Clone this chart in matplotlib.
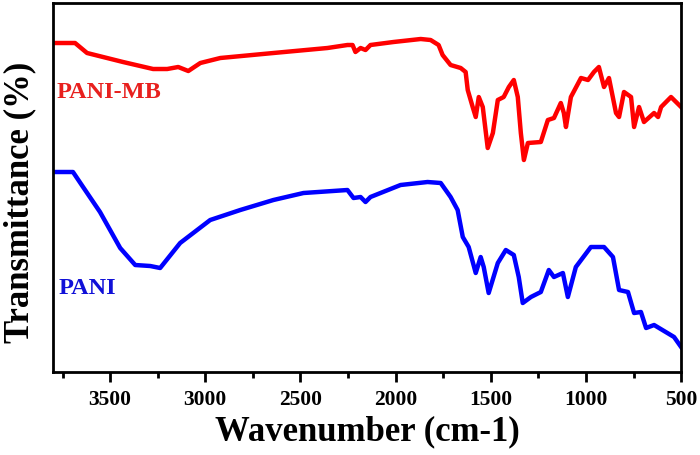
import matplotlib
matplotlib.use("Agg")
import matplotlib.pyplot as plt
from matplotlib.ticker import MultipleLocator

# FTIR spectra (arbitrary transmittance units)
wn_mb = [3800, 3684, 3621, 3432, 3274, 3200, 3142, 3089, 3026, 2921, 2642, 2358, 2253, 2226,
         2211, 2184, 2158, 2132, 2011, 1868, 1816, 1774, 1753, 1711, 1658, 1632, 1621, 1595,
         1579, 1563, 1542, 1516, 1489, 1463, 1432, 1405, 1379, 1358, 1342, 1326, 1305, 1237,
         1200, 1168, 1132, 1116, 1105, 1079, 1026, 989, 958, 932, 905, 879, 842, 826, 800,
         763, 747, 721, 695, 642, 621, 605, 553, 500]
t_mb = [412, 412, 402, 393, 386, 386, 388, 384, 392, 397, 402, 407, 410, 410,
        403, 407, 405, 410, 413, 416, 415, 410, 400, 390, 387, 383, 365, 348,
        338, 358, 348, 307, 322, 355, 358, 368, 375, 358, 322, 295, 312, 313,
        335, 337, 352, 342, 328, 358, 377, 375, 383, 388, 368, 377, 342, 338, 363,
        358, 328, 348, 333, 342, 338, 348, 358, 348]

wn_pani = [3800, 3695, 3642, 3553, 3447, 3368, 3289, 3237, 3132, 2974, 2816, 2642, 2484,
           2253, 2221, 2184, 2158, 2132, 1974, 1832, 1763, 1711, 1674, 1647, 1616, 1579,
           1553, 1537, 1511, 1463, 1421, 1379, 1353, 1332, 1289, 1237, 1195, 1168, 1121,
           1095, 1053, 974, 905, 858, 826, 779, 747, 711, 684, 642, 537, 500]
t_pani = [283, 283, 268, 243, 207, 190, 189, 187, 212, 235, 245, 255, 262,
          265, 257, 258, 253, 258, 270, 273, 272, 258, 245, 218, 208, 182,
          198, 188, 162, 192, 205, 200, 178, 152, 158, 163, 185, 178, 182,
          158, 188, 208, 208, 198, 165, 163, 142, 143, 127, 130, 118, 108]

plt.rcParams['font.family'] = ['Liberation Serif', 'DejaVu Serif']
plt.rcParams['font.weight'] = 'bold'

fig = plt.figure(figsize=(7, 4.55), dpi=100)
ax = fig.add_axes([0.0757, 0.1824, 0.8973, 0.811])

ax.plot(wn_mb, t_mb, color='#ff0000', lw=3.2)
ax.plot(wn_pani, t_pani, color='#0000ff', lw=3.2)

ax.text(3780, 363, 'PANI-MB', color='#e8201e', fontsize=17.5, fontweight='bold', va='center')
ax.text(3770, 167, 'PANI', color='#1010d8', fontsize=17.5, fontweight='bold', va='center')

ax.set_xlim(3800, 500)
ax.set_ylim(83, 452)
ax.xaxis.set_major_locator(MultipleLocator(500))
ax.xaxis.set_minor_locator(MultipleLocator(250))
ax.set_yticks([])
ax.tick_params(axis='x', which='major', direction='out', length=7, width=2, labelsize=15.5, pad=6)
ax.tick_params(axis='x', which='minor', direction='out', length=4, width=2)
for lab in ax.get_xticklabels():
    lab.set_fontweight('bold')
for s in ax.spines.values():
    s.set_linewidth(2)

ax.set_xlabel('Wavenumber (cm-1)', fontsize=25, fontweight='bold', labelpad=4)
ax.set_ylabel('Transmittance (%)', fontsize=25, fontweight='bold')
ax.yaxis.set_label_coords(-0.026, 0.46)

fig.savefig('out.png', dpi=100)
